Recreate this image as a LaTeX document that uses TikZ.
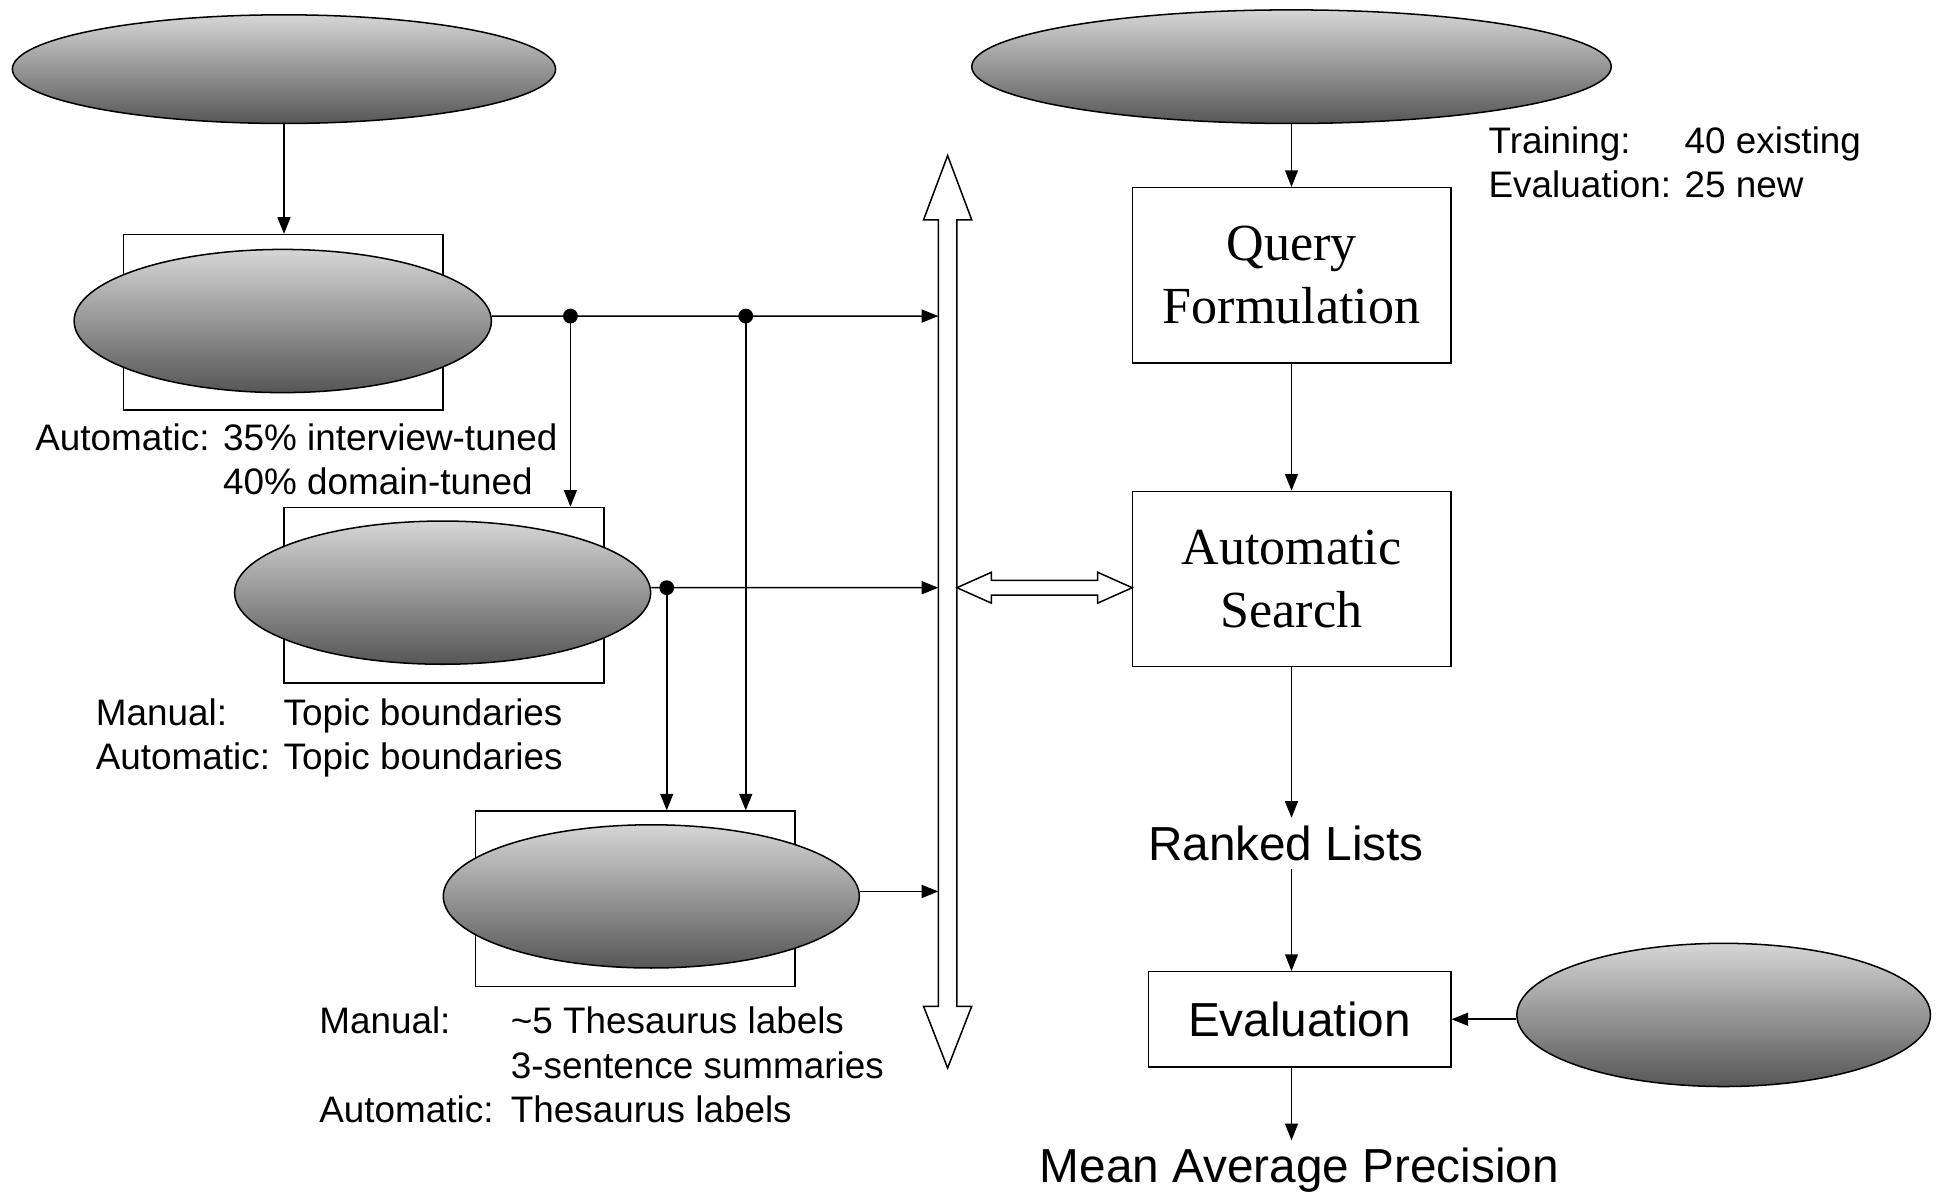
\documentclass[tikz,border=0pt]{standalone}
\usepackage{fontspec}
\setmainfont{Liberation Sans}
\newfontfamily\stagefont{Liberation Serif}
\usepackage{tikz}
\usetikzlibrary{shapes.geometric,arrows.meta}
\definecolor{blobtop}{RGB}{214,214,214}
\definecolor{blobbot}{RGB}{86,86,86}

\tikzset{
  blob/.style={ellipse, draw, top color=blobtop, bottom color=blobbot, inner sep=0pt},
  frame/.style={rectangle, draw, minimum width=5.18cm, minimum height=2.84cm},
  stagebox/.style={rectangle, draw, minimum width=5.16cm, minimum height=2.84cm, align=center, font=\stagefont\fontsize{24}{29}\selectfont},
  note/.style={font=\fontsize{17}{20.5}\selectfont, inner sep=0pt, anchor=west},
  bigtext/.style={font=\fontsize{22}{26}\selectfont},
  jdot/.style={circle, fill, inner sep=0pt, minimum size=0.24cm}
}

\begin{document}
\begin{tikzpicture}[x=0.02cm, y=-0.02cm, line width=0.7pt, >={Triangle[length=0.27cm,width=0.21cm]}]
\useasboundingbox (0,0) rectangle (1568,969);

% left column
\node[blob, minimum width=8.8cm, minimum height=1.76cm] (interviews) at (230,56) {};
\node[frame] (box1) at (229.5,261) {};
\node[blob, minimum width=6.76cm, minimum height=2.32cm] (asr) at (229,260) {};
\node[frame] (box2) at (359.5,482) {};
\node[blob, minimum width=6.74cm, minimum height=2.32cm] (seg) at (358.5,480) {};
\node[frame] (box3) at (514.5,728) {};
\node[blob, minimum width=6.74cm, minimum height=2.32cm] (tags) at (527.5,726) {};

\node[note] (asrnote) at (28,375.5) {\begin{tabular}{@{}l@{ }l@{}}Automatic: & 35\% interview-tuned\\ & 40\% domain-tuned\end{tabular}};
\node[note] (segnote) at (77,598) {\begin{tabular}{@{}l@{ }l@{}}Manual: & Topic boundaries\\ Automatic: & Topic boundaries\end{tabular}};
\node[note] (tagnote) at (258,866) {\begin{tabular}{@{}l@{\hspace{8pt}}l@{}}Manual: & \textasciitilde5 Thesaurus labels\\ & 3-sentence summaries\\ Automatic: & Thesaurus labels\end{tabular}};

% the bus
\draw[fill=white] (767.5,126) -- (787,178) -- (775,178) -- (775,815) -- (787,815) -- (767.5,865)
  -- (748,815) -- (760,815) -- (760,178) -- (748,178) -- cycle;
\coordinate (busL) at (760,0);

\node[jdot] (j1) at (462,256) {};
\node[jdot] (j2) at (604,256) {};
\node[jdot] (j3) at (540,476) {};

\draw[->] (interviews.south) -- (box1.north -| interviews.south);
\draw[->] ([yshift=0.08cm]asr.east) -- (j1.center) -- (j1.center -| busL);
\draw[->] (j1.center) -- (j1.center |- box2.north);
\draw[->] (j2.center) -- (j2.center |- box3.north);
\draw[->] ([yshift=0.08cm]seg.east) -- (j3.center) -- (j3.center -| busL);
\draw[->] (j3.center) -- (j3.center |- box3.north);
\draw[->] ([yshift=0.08cm]tags.east) -- ([yshift=0.08cm]tags.east -| busL);

% right column
\node[blob, minimum width=10.36cm, minimum height=1.84cm] (topics) at (1046,54) {};
\node[note] (topicnote) at (1205,135) {\begin{tabular}{@{}l@{ }l@{}}Training: & 40 existing\\ Evaluation: & 25 new\end{tabular}};
\node[stagebox] (query) at (1046,223) {Query\\Formulation};
\node[stagebox] (search) at (1046,469) {Automatic\\Search};
\node[bigtext] (ranked) at (1041.5,683) {Ranked Lists};
\node[draw, minimum width=4.9cm, minimum height=1.54cm, bigtext] (eval) at (1052.5,825.5) {Evaluation};
\node[blob, minimum width=6.7cm, minimum height=2.32cm] (judgments) at (1396,822) {};
\node[bigtext] (map) at (1052.5,948) {Mean Average Precision};

% bus <-> search
\draw[fill=white] (775,476) -- (803,463.5) -- (803,470) -- (889,470) -- (889,463.5) -- (917,476)
  -- (889,488.5) -- (889,482) -- (803,482) -- (803,488.5) -- cycle;

\draw[->] (topics.south) -- (query.north);
\draw[->] (query) -- (search);
\draw[->] (search.south) -- (search.south |- ranked.north);
\draw[->] (search.south |- ranked.south) -- (search.south |- eval.north);
\draw[->] (eval.east -| judgments.west) -- (eval.east);
\draw[->] (search.south |- eval.south) -- (search.south |- map.north);
\end{tikzpicture}
\end{document}
